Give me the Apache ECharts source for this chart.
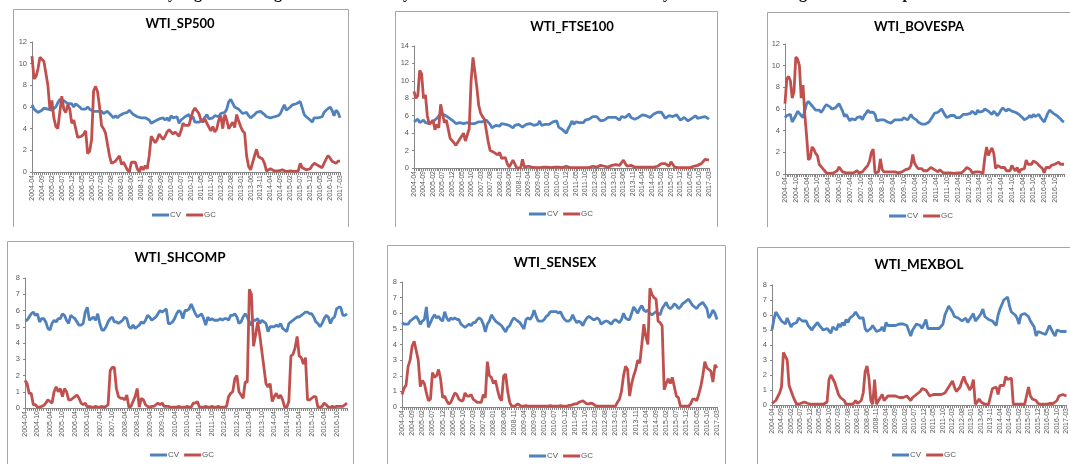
<!DOCTYPE html>
<html>
<head>
<meta charset="utf-8">
<script src="https://cdn.jsdelivr.net/npm/echarts@6/dist/echarts.min.js"></script>
<style>html,body{margin:0;padding:0;background:#fff;}#c{width:1070px;height:464px;}</style>
</head>
<body>
<div id="c"></div>
<script>
// ---- categories: monthly 2004-04 .. 2017-03 ----
const startYear = 2004, startMonth = 4, monthCount = 156;
const months = [];
for (let k = 0; k < monthCount; k++) {
  const m = startMonth - 1 + k;
  const y = startYear + Math.floor(m / 12);
  const mm = (m % 12) + 1;
  months.push(y + '-' + (mm < 10 ? '0' + mm : mm));
}
const seriesNames = ['CV', 'GC'];
const panelTitles = ['WTI_SP500', 'WTI_FTSE100', 'WTI_BOVESPA', 'WTI_SHCOMP', 'WTI_SENSEX', 'WTI_MEXBOL'];
const yMax = [12, 14, 12, 8, 8, 8];
const yStep = [2, 2, 2, 1, 1, 1];
const labelEvery = [5, 5, 6, 6, 5, 5];

// ---- WTI_SP500 ----
const cvSP500 = [
6.2,5.8,5.7,5.5,5.6,5.7,5.9,6.0,5.8,5.9,5.7,5.8,
6.0,6.4,6.7,6.8,6.6,6.5,6.3,6.2,6.3,6.0,6.3,6.2,
6.0,5.8,5.9,5.8,6.0,5.8,5.7,5.6,5.6,5.6,5.5,5.6,
5.4,5.5,5.6,5.4,5.2,5.0,5.2,5.0,5.2,5.3,5.4,5.3,
5.5,5.7,5.6,5.3,5.2,5.1,5.1,5.0,5.1,5.0,4.9,4.8,
4.5,4.4,4.7,4.8,4.9,4.8,5.0,4.8,5.0,4.7,5.2,5.0,
4.9,5.1,4.5,4.8,4.9,5.1,5.0,5.3,4.9,5.1,4.6,4.6,
4.6,4.7,4.8,4.7,5.3,4.9,5.0,5.0,5.2,5.3,5.1,5.4,
5.3,5.5,5.8,6.5,6.7,6.8,6.0,6.0,5.8,5.6,5.4,5.5,
5.5,5.2,5.0,5.1,5.3,5.5,5.6,5.6,5.5,5.3,5.1,5.0,
5.0,5.0,5.1,5.0,5.2,5.4,5.8,6.2,5.7,5.8,6.0,6.2,
6.3,6.3,6.4,6.5,5.9,5.3,5.1,5.0,4.8,4.6,5.0,5.1,
5.0,5.0,5.1,5.5,5.7,5.6,6.0,5.7,5.2,5.7,5.5,5.0];
const gcSP500 = [
10.7,8.6,8.8,9.5,10.6,10.6,10.2,10.3,8.0,5.8,6.6,5.0,
4.2,4.0,3.9,7.0,5.8,5.5,6.2,5.8,4.5,4.8,4.0,3.2,
3.1,3.3,3.5,3.8,1.7,1.9,3.0,7.5,7.9,7.4,6.0,4.3,
4.0,3.6,3.5,1.5,0.8,0.7,1.0,0.9,1.5,0.7,0.9,0.8,
0.2,0.0,0.9,0.9,0.9,0.3,0.0,0.5,0.2,0.6,0.3,1.5,
3.3,3.2,2.7,3.0,3.5,3.6,3.0,3.3,3.7,3.9,3.9,3.5,
3.7,3.6,3.3,3.8,4.5,4.3,4.3,4.3,5.0,5.6,5.9,5.8,
5.4,4.8,4.6,4.9,4.5,4.5,3.8,4.2,3.7,4.0,4.8,5.2,
4.0,5.3,4.8,4.0,4.3,4.6,4.1,5.3,4.7,4.2,3.8,3.6,
1.5,0.5,0.2,0.3,1.5,2.1,1.4,1.4,1.2,0.8,0.1,0.2,
0.3,0.3,0.1,0.1,0.1,0.1,0.2,0.1,0.05,0.05,0.1,0.0,
0.05,0.0,0.1,0.8,0.4,0.5,0.2,0.3,0.3,0.6,0.8,0.8,
0.6,0.5,0.4,0.5,1.2,1.5,1.3,1.0,0.9,0.8,1.0,1.0];

// ---- WTI_FTSE100 ----
const cvFTSE100 = [
5.3,5.3,5.6,5.2,5.3,5.5,5.2,5.3,5.1,5.2,5.3,5.5,
5.7,5.9,6.2,6.3,6.1,6.0,5.8,5.6,5.5,5.3,5.1,5.0,
5.2,5.3,5.1,5.0,5.2,5.0,5.1,5.2,5.1,5.2,5.3,5.5,
5.3,5.4,5.5,5.6,5.0,4.6,4.7,4.9,5.0,4.8,5.1,4.9,
5.0,5.2,4.9,4.7,4.6,4.9,5.1,5.0,5.2,4.7,4.9,5.0,
5.0,5.1,5.0,4.9,5.1,5.0,5.4,4.9,5.1,5.0,5.2,5.0,
5.1,5.3,5.3,5.4,4.7,4.5,4.4,4.2,4.0,4.5,4.9,5.4,
5.0,5.3,5.1,5.2,5.4,5.2,5.5,5.3,5.6,5.7,5.9,6.1,
5.9,5.7,5.4,5.2,5.5,5.6,5.8,6.0,5.8,5.7,5.8,5.7,
5.5,5.9,5.7,5.8,6.0,6.2,5.8,5.6,5.6,5.7,5.8,6.0,
6.1,6.1,6.0,6.0,5.8,6.0,6.2,6.3,6.4,6.5,6.4,6.2,
5.7,5.9,6.0,6.0,5.9,5.8,6.1,6.0,5.5,5.7,5.8,5.6,
5.4,5.5,5.7,5.8,6.0,5.7,5.5,5.8,5.7,5.9,5.8,5.6];
const gcFTSE100 = [
8.8,8.0,8.3,11.2,10.8,8.0,8.4,6.0,5.0,5.2,5.5,4.4,
5.0,4.6,7.3,6.2,5.2,5.5,5.5,3.4,3.5,2.9,2.6,2.8,
3.3,3.5,4.0,3.1,3.3,4.5,10.0,12.7,11.0,9.3,7.2,6.3,
5.9,5.6,5.4,3.0,2.0,1.9,1.8,2.0,1.5,1.8,1.1,1.1,
1.2,0.5,0.1,0.5,0.9,0.8,0.0,0.1,0.0,1.0,0.1,0.1,
0.2,0.1,0.1,0.05,0.05,0.1,0.05,0.05,0.1,0.05,0.1,0.05,
0.05,0.1,0.1,0.05,0.1,0.1,0.05,0.1,0.2,0.1,0.05,0.05,
0.05,0.05,0.05,0.1,0.05,0.05,0.05,0.1,0.05,0.1,0.2,0.15,
0.1,0.05,0.3,0.5,0.2,0.1,0.1,0.2,0.3,0.3,0.4,0.3,
0.3,0.6,0.9,0.5,0.2,0.2,0.3,0.2,0.1,0.05,0.1,0.2,
0.1,0.05,0.1,0.3,0.1,0.05,0.1,0.1,0.2,0.3,0.5,0.6,
0.5,0.3,0.2,0.7,0.7,0.1,0.05,0.05,0.05,0.05,0.05,0.05,
0.05,0.05,0.1,0.2,0.3,0.3,0.4,0.5,0.6,1.0,0.9,0.9];

// ---- WTI_BOVESPA ----
const cvBOVESPA = [
5.2,5.4,5.3,5.5,4.8,5.1,5.4,5.8,5.6,5.4,5.2,5.1,
6.5,6.7,6.5,6.3,6.1,5.9,5.8,5.9,5.7,5.9,6.2,6.4,
6.5,6.2,6.0,5.9,6.1,6.3,6.5,6.4,5.8,5.3,5.5,5.4,
4.9,5.1,5.0,5.0,5.2,5.1,5.3,5.0,5.4,5.6,5.9,5.7,
5.6,5.7,5.5,4.9,4.8,5.0,4.9,5.0,4.9,4.8,4.9,4.7,
4.8,5.0,5.1,5.0,5.1,5.0,5.2,5.1,5.0,5.2,5.5,5.2,
5.1,5.0,4.8,4.7,4.6,4.6,4.6,4.7,4.8,4.9,5.3,5.6,
5.6,5.7,5.6,6.0,5.7,5.4,5.2,5.3,5.4,5.5,5.4,5.2,
5.3,5.2,5.3,5.5,5.4,5.5,5.6,5.6,5.8,5.7,5.5,5.9,
5.7,5.6,5.8,6.0,5.9,5.8,5.7,5.5,5.8,5.6,5.4,5.6,
5.9,6.1,6.0,5.8,6.0,5.9,5.8,5.9,5.7,5.6,5.5,5.4,
5.2,5.0,5.0,5.2,5.4,5.2,5.5,5.3,5.4,5.5,5.2,5.0,
4.8,5.2,5.6,5.9,5.8,5.6,5.5,5.4,5.3,5.1,4.9,4.8];
const gcBOVESPA = [
6.5,8.8,9.0,8.6,7.0,7.6,10.8,10.6,10.0,7.0,8.2,5.5,
3.5,1.3,1.5,2.5,2.3,1.9,1.7,0.9,0.8,0.5,0.3,0.1,
0.05,0.05,0.1,0.1,0.15,0.3,0.65,0.5,0.2,0.1,0.1,0.1,
0.1,0.05,0.1,0.1,0.3,0.1,0.1,0.2,0.4,0.5,0.8,1.2,
2.0,2.3,0.1,0.1,0.2,1.4,0.4,0.2,0.2,0.2,0.1,0.2,
0.3,0.2,0.1,0.1,0.2,0.2,0.3,0.4,0.4,0.5,0.8,1.8,
1.0,0.7,0.5,0.6,0.5,0.3,0.3,0.3,0.4,0.6,0.6,0.4,
0.3,0.2,0.4,0.3,0.1,0.1,0.1,0.05,0.1,0.1,0.05,0.1,
0.1,0.05,0.1,0.2,0.4,0.6,0.7,0.4,0.1,0.1,0.2,0.1,
0.2,0.1,0.05,1.5,2.5,1.7,2.1,2.4,1.9,0.5,0.8,0.7,
0.6,0.5,0.6,0.3,0.2,0.3,0.8,0.5,0.3,0.6,0.1,0.4,
0.3,0.5,1.3,0.9,0.8,0.9,1.2,1.3,1.0,0.8,0.7,0.5,
0.1,0.6,0.7,0.6,0.8,0.9,0.9,1.0,1.1,0.9,1.0,0.9];

// ---- WTI_SHCOMP ----
const cvSHCOMP = [
5.4,5.4,5.6,5.8,5.9,5.7,5.8,5.3,5.5,5.5,5.3,4.9,
4.8,5.2,5.4,5.3,5.5,5.5,5.8,5.7,5.4,5.2,5.7,5.6,
5.5,5.3,5.1,5.1,5.2,5.9,6.2,5.4,5.5,5.6,5.4,5.8,
5.2,4.8,4.8,5.0,5.3,5.5,5.6,5.3,5.3,5.2,5.3,5.4,
5.6,5.5,5.0,4.9,5.1,4.9,5.0,5.1,5.3,5.2,5.4,5.7,
5.6,5.4,5.5,5.6,5.8,6.0,5.9,6.0,6.1,5.2,5.2,5.3,
5.5,5.8,6.0,5.9,5.5,6.0,6.0,6.1,6.4,6.1,5.8,5.6,
5.7,5.8,5.5,5.1,5.6,5.4,5.5,5.4,5.4,5.4,5.5,5.4,
5.5,5.5,5.4,5.7,5.7,5.8,5.6,5.2,5.3,5.6,5.8,5.6,
5.3,5.1,5.4,5.4,5.5,5.2,5.4,5.3,5.2,4.7,5.0,5.0,
5.0,5.1,5.0,5.2,4.9,4.8,4.7,5.2,5.3,5.4,5.5,5.6,
5.6,5.7,5.8,5.9,5.9,5.8,5.8,5.6,5.3,5.2,5.0,5.2,
5.5,5.7,5.6,5.2,5.5,5.6,6.1,6.2,6.2,5.7,5.7,5.8];
const gcSHCOMP = [
1.7,1.5,0.9,0.9,0.2,0.2,0.05,0.05,0.1,0.15,0.3,0.5,
0.4,0.3,1.0,1.3,1.0,1.2,0.7,1.2,1.0,0.5,0.5,0.6,
0.7,0.8,0.6,0.3,0.2,0.3,0.05,0.1,0.05,0.05,0.1,0.05,
0.05,0.1,0.05,0.1,0.2,2.3,2.5,2.5,1.2,0.7,0.6,0.6,
0.5,0.8,0.05,0.1,0.4,0.7,1.2,0.05,0.6,0.5,0.2,0.1,
0.05,0.1,0.1,0.2,0.3,0.2,0.3,0.1,0.1,0.1,0.05,0.05,
0.05,0.05,0.1,0.05,0.05,0.05,0.1,0.05,0.05,0.3,0.3,0.4,
0.05,0.05,0.05,0.1,0.05,0.05,0.1,0.05,0.05,0.1,0.05,0.05,
0.05,0.1,0.7,0.9,1.0,1.8,2.0,1.0,0.8,0.6,1.6,1.6,
7.3,7.0,3.8,4.5,5.3,4.5,3.5,2.5,1.5,1.3,1.5,0.4,
0.7,0.9,0.6,0.8,0.5,0.05,0.05,0.4,3.2,3.3,3.7,4.4,
3.2,3.1,2.7,3.1,0.5,0.5,0.6,0.7,0.7,0.05,0.05,0.1,
0.3,0.2,0.05,0.05,0.1,0.05,0.1,0.1,0.1,0.1,0.2,0.3];

// ---- WTI_SENSEX ----
const cvSENSEX = [
5.4,5.3,5.3,5.3,5.5,5.6,5.7,5.8,5.6,5.3,5.5,5.6,
6.4,5.1,5.4,5.7,5.9,5.7,5.8,5.6,5.5,6.1,5.7,5.5,
5.7,5.6,5.7,5.6,5.6,5.3,5.2,5.1,5.2,5.3,5.2,5.4,
5.4,5.6,5.7,5.6,5.3,4.8,5.3,5.5,5.9,5.7,5.5,5.4,
5.3,5.2,5.0,4.8,5.1,5.2,5.5,5.7,5.6,5.5,5.4,5.2,
5.0,5.6,5.7,5.6,5.8,6.2,5.8,5.5,5.5,5.5,5.6,5.8,
5.9,6.1,6.1,6.1,6.1,6.0,6.1,5.8,5.6,5.5,5.5,5.6,
5.9,5.6,5.4,5.5,5.4,5.2,5.5,5.7,5.8,5.7,5.6,5.6,
5.7,5.6,5.3,5.4,5.5,5.5,5.4,5.3,5.5,5.6,5.5,5.4,
5.6,6.0,5.7,5.6,5.6,6.0,6.4,6.2,6.0,6.3,6.5,6.2,
6.1,6.2,6.0,5.9,6.0,6.1,6.0,5.9,6.3,6.5,6.7,6.4,
6.3,6.4,6.6,6.5,6.3,6.4,6.6,6.7,6.8,6.9,6.7,6.5,
6.4,6.3,6.5,6.6,6.7,6.5,6.3,5.7,5.9,6.2,6.0,5.6];
const gcSENSEX = [
0.8,1.2,1.4,2.6,3.0,3.9,4.2,3.6,3.0,1.3,1.7,1.5,
0.9,0.4,0.5,2.2,1.9,2.0,2.4,1.8,0.6,0.7,0.4,0.2,
0.3,0.6,0.9,0.8,0.5,0.4,0.4,0.9,0.7,0.7,0.8,0.5,
0.4,0.3,0.3,0.3,0.8,0.6,2.9,2.0,1.9,1.5,1.7,1.1,
0.6,0.4,2.0,2.1,1.0,0.3,0.05,0.05,0.1,0.2,0.1,0.05,
0.05,0.1,0.05,0.05,0.05,0.05,0.05,0.05,0.05,0.05,0.05,0.05,
0.05,0.1,0.05,0.05,0.05,0.05,0.1,0.05,0.05,0.05,0.1,0.1,
0.15,0.2,0.2,0.3,0.35,0.4,0.3,0.2,0.2,0.25,0.2,0.1,
0.05,0.05,0.05,0.05,0.05,0.05,0.05,0.05,0.05,0.05,0.3,0.5,
1.0,2.0,2.6,2.4,0.7,1.5,2.0,2.4,3.0,2.8,4.0,5.3,
4.5,4.0,7.6,7.2,7.0,6.9,5.5,5.4,5.2,1.1,1.5,1.8,
1.5,1.9,1.3,0.7,0.6,0.05,0.05,0.05,0.05,0.05,0.2,0.5,
0.5,0.4,0.8,1.3,2.0,2.9,2.5,2.4,2.3,1.6,2.7,2.5];

// ---- WTI_MEXBOL ----
const cvMEXBOL = [
5.0,5.7,6.2,6.0,5.8,5.6,5.7,5.4,5.8,5.7,5.2,5.4,
5.3,5.5,5.8,5.7,5.6,5.5,5.6,5.3,5.2,5.0,5.2,5.3,
5.5,5.3,5.2,5.0,4.9,5.1,5.0,4.8,5.2,5.2,5.0,5.4,
5.2,5.5,5.3,5.7,5.5,5.8,5.8,6.0,6.2,6.3,5.8,5.7,
5.8,5.1,4.9,5.0,5.1,5.3,5.2,4.9,4.8,5.0,5.2,4.9,
5.5,5.3,5.3,5.3,5.4,5.3,5.4,5.4,5.3,5.4,5.3,5.3,
5.2,4.6,5.0,5.2,5.4,5.4,5.3,5.1,5.4,5.7,5.1,5.2,
5.1,5.2,5.1,5.0,5.1,5.0,5.4,6.0,6.3,6.6,6.4,6.2,
5.9,5.8,5.8,5.7,5.6,5.5,5.8,5.5,5.7,5.9,6.1,5.6,
5.7,5.9,6.1,6.4,5.9,5.8,5.7,5.7,5.6,5.5,5.3,6.0,
6.4,6.7,7.0,7.1,7.2,6.6,6.2,6.2,6.0,5.8,5.4,6.0,
6.0,6.1,6.2,5.9,5.6,5.6,5.2,4.6,4.9,5.0,4.8,4.8,
4.7,5.0,5.3,5.2,4.8,4.6,5.0,4.9,4.9,4.8,4.9,4.9];
const gcMEXBOL = [
0.1,0.2,0.3,0.3,0.8,1.2,3.5,3.5,3.0,1.3,1.2,0.6,
0.3,0.05,0.05,0.1,0.1,0.2,0.3,0.1,0.05,0.05,0.05,0.05,
0.05,0.05,0.05,0.05,0.1,0.2,1.7,2.0,2.0,1.5,1.5,0.7,
0.5,0.4,0.3,0.05,0.05,0.05,0.05,0.1,0.3,0.1,0.1,0.3,
0.8,2.2,2.6,1.8,0.3,0.05,1.7,0.05,0.05,0.5,0.7,0.3,
0.4,0.6,0.7,0.6,0.7,0.6,0.6,0.5,0.6,0.5,0.6,0.6,
0.5,0.3,0.5,0.6,0.7,0.7,0.9,1.1,1.1,1.0,0.8,0.6,
0.6,0.7,0.7,0.7,0.8,0.7,0.7,0.8,0.8,1.2,1.4,1.6,
1.2,0.9,0.8,1.2,1.6,1.9,1.5,1.3,1.0,1.2,1.7,0.05,
0.2,0.4,0.2,0.1,0.05,0.05,0.05,0.05,1.1,1.2,1.2,0.7,
1.3,1.2,1.3,1.9,1.7,1.6,1.8,0.05,0.05,0.05,0.05,0.05,
0.05,0.05,0.1,1.2,0.6,0.4,0.3,0.3,0.1,0.05,0.05,0.1,
0.05,0.05,0.1,0.05,0.1,0.2,0.3,0.6,0.7,0.7,0.6,0.6];

const cvData = [cvSP500, cvFTSE100, cvBOVESPA, cvSHCOMP, cvSENSEX, cvMEXBOL];
const gcData = [gcSP500, gcFTSE100, gcBOVESPA, gcSHCOMP, gcSENSEX, gcMEXBOL];

// ---- layout (pixels) ----
const grids = [
  {left: 32, top: 42, width: 308, height: 130},
  {left: 414, top: 46, width: 295, height: 122},
  {left: 785, top: 44, width: 279, height: 130},
  {left: 25, top: 278, width: 322, height: 130},
  {left: 402, top: 282, width: 315, height: 125},
  {left: 772, top: 285, width: 304, height: 120}
];
const titlePos = [[180, 24, 13], [572, 27, 13], [919, 27, 13], [180, 258, 13.5], [555, 263, 13.5], [919, 265, 13.5]];
const legendPos = [[152, 211], [529, 210], [889, 212], [150, 451], [529, 452], [892, 451]];
const frames = [
  [[13.5, 227], [13.5, 9.5], [348.5, 9.5], [348.5, 227]],
  [[395.5, 227], [395.5, 11.5], [717.5, 11.5], [717.5, 227]],
  [[767.5, 227], [767.5, 12.5], [1075, 12.5]],
  [[7.5, 470], [7.5, 241.5], [353.5, 241.5], [353.5, 470]],
  [[387.5, 470], [387.5, 245.5], [725.5, 245.5], [725.5, 470]],
  [[757.5, 470], [757.5, 247.5], [1075, 247.5]]
];
const topGlyphs = [['y', 172], ['g', 198], ['g', 278], ['y', 407], ['y', 667], ['g', 803], ['p', 907]];

const BLUE = '#4F81BD', RED = '#C0504D', AXIS = '#868686', LABEL = '#595959';

const option = {
  animation: false,
  backgroundColor: '#fff',
  grid: grids.map(g => Object.assign({containLabel: false}, g)),
  xAxis: grids.map((g, i) => ({
    type: 'category', gridIndex: i, data: months, boundaryGap: false,
    axisLine: {lineStyle: {color: AXIS, width: 1}},
    axisTick: {show: true, interval: 0, length: 3, lineStyle: {color: AXIS}},
    axisLabel: {interval: labelEvery[i] - 1, rotate: 90, fontSize: 7, color: LABEL, margin: 3, fontFamily: 'Liberation Sans'},
    splitLine: {show: false}
  })),
  yAxis: grids.map((g, i) => ({
    type: 'value', gridIndex: i, min: 0, max: yMax[i], interval: yStep[i],
    axisLine: {show: true, lineStyle: {color: AXIS, width: 1}},
    axisTick: {show: true, length: 2, lineStyle: {color: AXIS}},
    axisLabel: {fontSize: 7.5, color: LABEL, margin: 5, fontFamily: 'Liberation Sans'},
    splitLine: {show: false}
  })),
  legend: legendPos.map(p => ({
    left: p[0], top: p[1], data: seriesNames, icon: 'rect', itemWidth: 17, itemHeight: 3, itemGap: 5,
    selectedMode: false, padding: 0,
    textStyle: {fontSize: 8, color: LABEL, fontFamily: 'Liberation Sans', padding: [0, 0, 0, -4]}
  })),
  series: [],
  graphic: []
};

for (let i = 0; i < 6; i++) {
  option.series.push({
    name: 'CV', type: 'line', xAxisIndex: i, yAxisIndex: i, data: cvData[i],
    showSymbol: false, symbol: 'none', lineStyle: {color: BLUE, width: 2.8}, itemStyle: {color: BLUE}
  });
  option.series.push({
    name: 'GC', type: 'line', xAxisIndex: i, yAxisIndex: i, data: gcData[i],
    showSymbol: false, symbol: 'none', lineStyle: {color: RED, width: 2.8}, itemStyle: {color: RED}
  });
  option.graphic.push({
    type: 'polyline', silent: true, z: 0,
    shape: {points: frames[i]}, style: {stroke: '#A6A6A6', lineWidth: 1, fill: null}
  });
  option.graphic.push({
    type: 'text', silent: true, x: titlePos[i][0], y: titlePos[i][1],
    style: {text: panelTitles[i], font: 'bold ' + titlePos[i][2] + 'px Lato', fill: '#000', align: 'center', verticalAlign: 'middle'}
  });
}
topGlyphs.forEach(g => option.graphic.push({
  type: 'text', silent: true, x: g[1], y: -6,
  style: {text: g[0], font: 'bold 16px "Liberation Serif"', fill: '#111', align: 'center', verticalAlign: 'middle'}
}));

const chart = echarts.init(document.getElementById('c'), null, {renderer: 'canvas'});
chart.setOption(option);
</script>
</body>
</html>
